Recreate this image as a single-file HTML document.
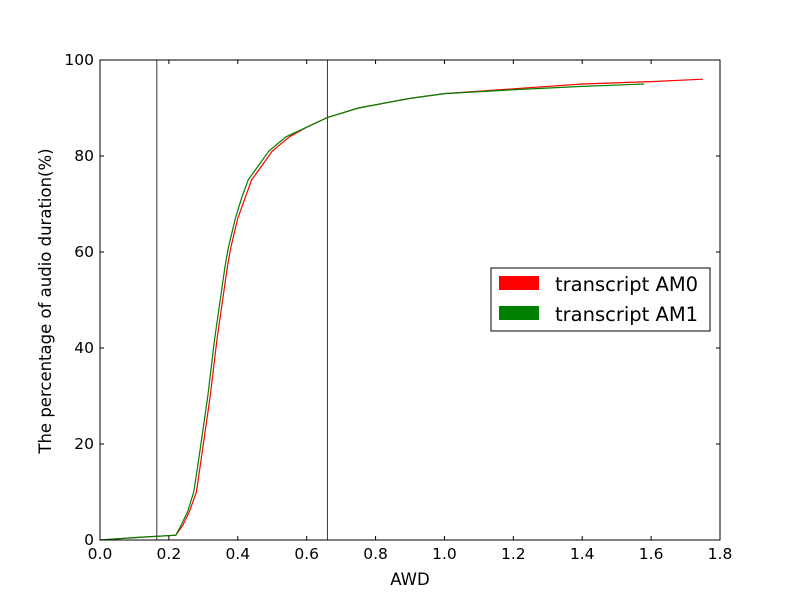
<!DOCTYPE html>
<html><head><meta charset="utf-8"><style>
body{margin:0;background:#fff}
svg text{font-family:"DejaVu Sans","Liberation Sans",sans-serif}
</style></head><body>
<svg id="c" width="800" height="600"></svg>
<script>
const xTicks=[0.0,0.2,0.4,0.6,0.8,1.0,1.2,1.4,1.6,1.8];
const yTicks=[0,20,40,60,80,100];
const vlines=[0.165,0.66];
const redX=[0,0.1,0.22,0.24,0.26,0.28,0.29,0.30,0.31,0.32,0.33,0.34,0.35,0.36,0.37,0.38,0.39,0.40,0.42,0.44,0.47,0.50,0.55,0.60,0.66,0.75,0.9,1.0,1.2,1.4,1.6,1.75];
const redY=[0,0.5,1,3,6,10,15,20,25,30,36,42,47,52,57,61,64,67,71,75,78,81,84,86,88,90,92,93,94,95,95.5,96];
const greenX=[0,0.1,0.22,0.235,0.255,0.272,0.283,0.293,0.303,0.313,0.323,0.333,0.343,0.353,0.363,0.373,0.383,0.393,0.41,0.43,0.46,0.49,0.54,0.60,0.66,0.75,0.9,1.0,1.2,1.4,1.58];
const greenY=[0,0.5,1,3,6,10,15,20,25,30,36,42,47,52,57,61,64,67,71,75,78,81,84,86,88,90,92,93,93.8,94.5,95];
const X0=100,X1=720,Y0=540,Y1=60;
const sx=v=>X0+(v/1.8)*(X1-X0), sy=v=>Y0-(v/100)*(Y0-Y1);
const svg=document.getElementById('c');const NS='http://www.w3.org/2000/svg';
function mk(t,a,p){const e=document.createElementNS(NS,t);for(const k in a)e.setAttribute(k,a[k]);(p||svg).appendChild(e);return e;}
vlines.forEach(v=>{const l=mk('line',{x1:sx(v),x2:sx(v),y1:Y1,y2:Y0,stroke:'#000','stroke-width':0.8});

});
function series(xs,ys,col,name){const p=mk('polyline',{points:xs.map((x,i)=>sx(x)+','+sy(ys[i])).join(' '),fill:'none',stroke:col,'stroke-width':1.2});

}
series(redX,redY,'#f00','series-am0');
series(greenX,greenY,'#008000','series-am1');
const fr=mk('rect',{x:X0,y:Y1,width:X1-X0,height:Y0-Y1,fill:'none',stroke:'#000','stroke-width':1});


xTicks.forEach(v=>{const x=sx(v);mk('line',{x1:x,x2:x,y1:Y0,y2:Y0-4,stroke:'#000'});mk('line',{x1:x,x2:x,y1:Y1,y2:Y1+4,stroke:'#000'});
const t=mk('text',{x:x,y:Y0+19,'text-anchor':'middle','font-size':15.5});t.textContent=v.toFixed(1);

});
yTicks.forEach(v=>{const y=sy(v);mk('line',{x1:X0,x2:X0+4,y1:y,y2:y,stroke:'#000'});mk('line',{x1:X1,x2:X1-4,y1:y,y2:y,stroke:'#000'});
const t=mk('text',{x:X0-6,y:y+5,'text-anchor':'end','font-size':15.5});t.textContent=v;

});
</script>
<svg width="800" height="600" style="position:absolute;left:0;top:0">
<text x="410" y="585" text-anchor="middle" font-size="16.5">AWD</text>
<text transform="translate(51,301) rotate(-90)" text-anchor="middle" font-size="16.5">The percentage of audio duration(%)</text>
<g>
<rect x="491" y="268" width="219" height="63" fill="#fff" stroke="#000"/>
<rect x="499" y="276" width="40" height="14" fill="#f00"/>
<text x="555" y="291" font-size="19.5">transcript AM0</text>
<rect x="499" y="306" width="40" height="14" fill="#008000"/>
<text x="555" y="321" font-size="19.5">transcript AM1</text>
</g>
</svg>
</body></html>
